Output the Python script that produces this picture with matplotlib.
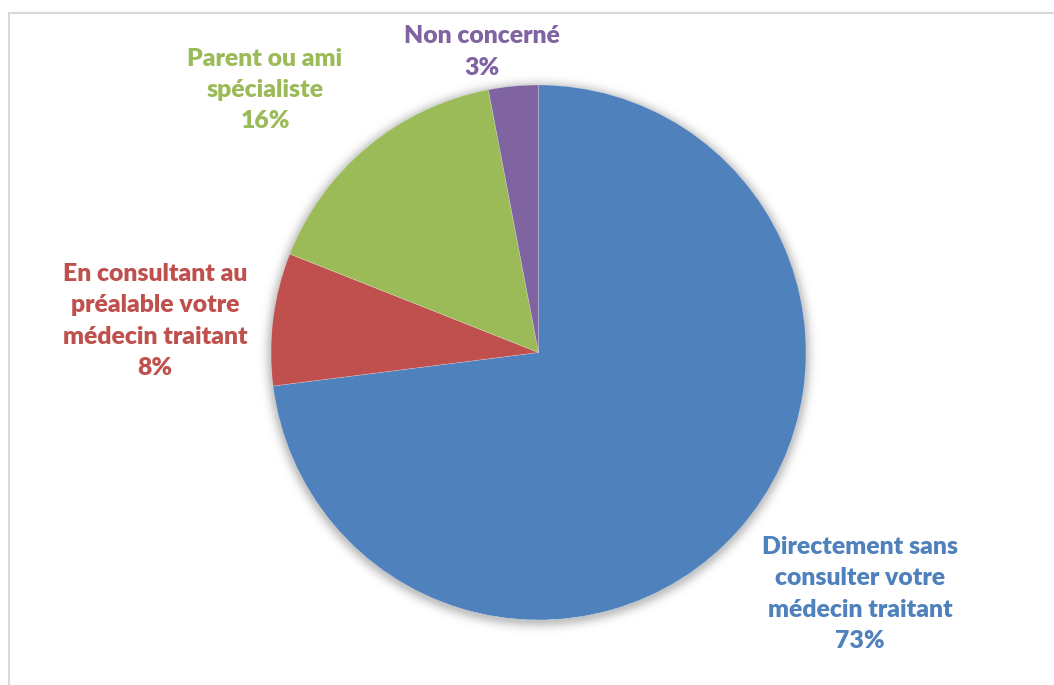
import numpy as np
import matplotlib
matplotlib.use("Agg")
import matplotlib.pyplot as plt
from matplotlib.patches import Rectangle

# Survey answers: how the specialist was reached
categories = [
    "Directement sans\nconsulter votre\nmédecin traitant",
    "En consultant au\npréalable votre\nmédecin traitant",
    "Parent ou ami\nspécialiste",
    "Non concerné",
]
shares = [73, 8, 16, 3]
colors = ["#4F81BD", "#C0504D", "#9BBB59", "#8064A2"]

W, H = 1054, 685
fig = plt.figure(figsize=(W / 100, H / 100), dpi=100)
ax = fig.add_axes([0, 0, 1, 1])
ax.set_xlim(0, W)
ax.set_ylim(0, H)
ax.axis("off")

# thin grey frame of the chart area
ax.add_patch(Rectangle((9, -5), W + 10, H - 13 + 5, fill=False,
                       edgecolor="#D9D9D9", linewidth=1.5, zorder=0))

cx, cy, r = 538.5, H - 352.5, 267.5

# soft glow shadow around the pie
yy, xx = np.mgrid[0:H, 0:W]
d = np.hypot(xx + 0.5 - cx, (H - yy - 0.5) - (cy - 2))
a = np.where(d > r - 2, 0.36 * np.exp(-((d - r + 2) / 7.5) ** 2), 0.0)
img = np.zeros((H, W, 4))
img[..., :3] = 0.35
img[..., 3] = a
ax.imshow(img, extent=(0, W, 0, H), origin="upper", zorder=1, interpolation="bilinear")

wedges, _ = ax.pie(shares, colors=colors, startangle=90, counterclock=False,
                   center=(cx, cy), radius=r, frame=True,
                   wedgeprops=dict(linewidth=0.4, edgecolor="#FFFFFF55"))
for w in wedges:
    w.set_zorder(2)
ax.set_xlim(0, W)
ax.set_ylim(0, H)
ax.set_aspect("auto")
ax.axis("off")

# data labels (category + percentage)
label_pos = [(860, H - 594), (155, H - 321), (265, H - 90), (482, H - 52)]
for name, val, col, (lx, ly) in zip(categories, shares, colors, label_pos):
    ax.text(lx, ly, f"{name}\n{val}%", color=col, ha="center", va="center",
            fontsize=17.8, fontweight="heavy", family="Lato", linespacing=1.52,
            zorder=3)

fig.savefig("out.png", dpi=100)
